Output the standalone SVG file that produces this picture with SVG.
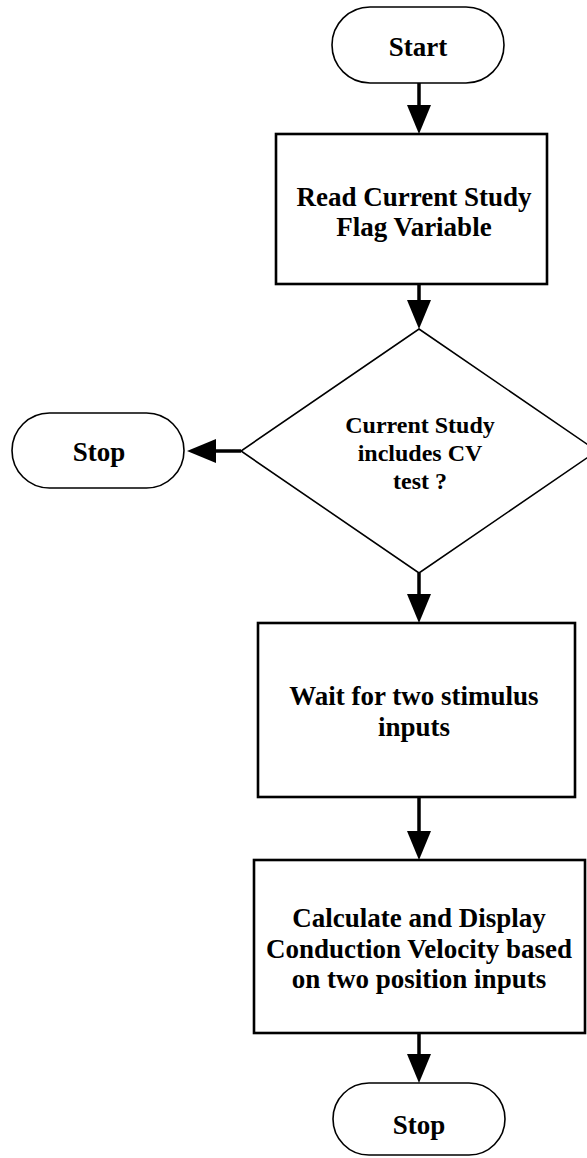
<svg xmlns="http://www.w3.org/2000/svg" width="587" height="1158" viewBox="0 0 587 1158">
  <style>
    .shape { fill: #ffffff; stroke: #000000; stroke-width: 1.6; }
    .box { fill: #ffffff; stroke: #000000; stroke-width: 2.6; }
    .lbl { font-family: "Liberation Serif", "Times New Roman", serif; font-weight: bold; font-size: 27px; fill: #000000; text-anchor: middle; }
    .dlbl { font-size: 24px; }
    .conn { stroke: #000000; stroke-width: 3.5; fill: none; marker-end: url(#arrow); }
  </style>
  <defs>
    <marker id="arrow" markerUnits="userSpaceOnUse" markerWidth="29" markerHeight="24" refX="19" refY="12" orient="auto">
      <path d="M0,0 L29,12 L0,24 z" fill="#000000"/>
    </marker>
  </defs>
  <rect width="587" height="1158" fill="#ffffff"/>

  <g id="connectors">
    <line class="conn" x1="419" y1="83" x2="419" y2="124"/>
    <line class="conn" x1="419" y1="284" x2="419" y2="319"/>
    <line class="conn" x1="241" y1="451" x2="197" y2="451"/>
    <line class="conn" x1="419" y1="573" x2="419" y2="613"/>
    <line class="conn" x1="419" y1="797" x2="419" y2="850"/>
    <line class="conn" x1="419" y1="1033" x2="419" y2="1073"/>
  </g>

  <g id="start">
    <rect class="shape" x="332" y="7" width="172" height="76" rx="38" ry="38"/>
    <text class="lbl" x="418" y="56">Start</text>
  </g>

  <g id="read-flag">
    <rect class="box" x="276" y="134" width="271" height="150"/>
    <text class="lbl" x="414" y="206">Read Current Study</text>
    <text class="lbl" x="414" y="236">Flag Variable</text>
  </g>

  <g id="decision">
    <polygon class="shape" points="419,329 597,451 419,573 241,451"/>
    <text class="lbl dlbl" x="420" y="433">Current Study</text>
    <text class="lbl dlbl" x="420" y="461">includes CV</text>
    <text class="lbl dlbl" x="420" y="489">test ?</text>
  </g>

  <g id="stop-left">
    <rect class="shape" x="12" y="413" width="172" height="75" rx="37.5" ry="37.5"/>
    <text class="lbl" x="99" y="461">Stop</text>
  </g>

  <g id="wait-inputs">
    <rect class="box" x="258" y="623" width="317" height="174"/>
    <text class="lbl" x="414" y="705">Wait for two stimulus</text>
    <text class="lbl" x="414" y="736">inputs</text>
  </g>

  <g id="calculate">
    <rect class="box" x="254" y="860" width="331" height="173"/>
    <text class="lbl" x="419" y="927">Calculate and Display</text>
    <text class="lbl" x="419" y="958">Conduction Velocity based</text>
    <text class="lbl" x="419" y="988">on two position inputs</text>
  </g>

  <g id="stop-bottom">
    <rect class="shape" x="333" y="1083" width="172" height="72" rx="36" ry="36"/>
    <text class="lbl" x="419" y="1134">Stop</text>
  </g>
</svg>
